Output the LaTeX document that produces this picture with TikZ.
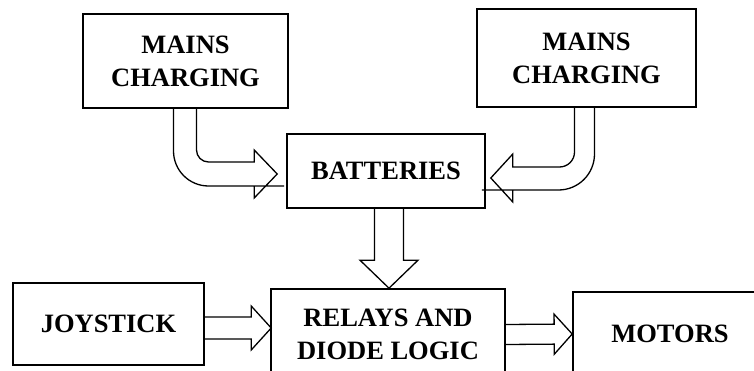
\documentclass[tikz,border=0pt]{standalone}
\usepackage{fontspec}
\setmainfont{Liberation Serif}
\usetikzlibrary{calc}

\begin{document}
\begin{tikzpicture}[
  x=1pt, y=-1pt,
  line join=miter,
  block/.style={draw, line width=1.6pt, align=center, inner sep=0pt,
    font=\bfseries\fontsize{26.5}{33}\selectfont},
  fat/.style={line width=1.3pt},
  straight/.style n args={3}{to path={
    (\tikztostart) coordinate (fa) (\tikztotarget) coordinate (fb)
    ($(fa)!#1!90:(fb)$) -- ($(fb)!#3!(fa)!#1!90:(fb)$)
    -- ($(fb)!#3!(fa)!#2!90:(fb)$) -- (fb)
    -- ($(fb)!#3!(fa)!#2!-90:(fb)$) -- ($(fb)!#3!(fa)!#1!-90:(fb)$)
    -- ($(fa)!#1!-90:(fb)$)}},
]
\clip (0,0) rectangle (754,371);

% ── the blocks ────────────────────────────────────────────────────────────
\node[block, minimum width=205pt, minimum height=94pt] (mainsL) at (185.5,61) {MAINS\\CHARGING};
\node[block, minimum width=219pt, minimum height=98pt] (mainsR) at (586.5,58) {MAINS\\CHARGING};
\node[block, minimum width=198pt, minimum height=74pt] (batt) at (386,171) {BATTERIES};
\node[block, minimum width=191pt, minimum height=82pt] (joy) at (108.5,324) {JOYSTICK};
\node[block, minimum width=234pt, minimum height=91pt] (relays) at (388,334.5) {RELAYS AND\\DIODE LOGIC};
\node[block, minimum width=194pt, minimum height=84pt] (motors) at (670,334) {MOTORS};

% ── the bent arrows into the batteries ────────────────────────────────────
\draw[fat] ($(mainsL.south)+(-12,0)$) [rounded corners=35pt] |- ($(batt.west)+(-37,15)$)
  [sharp corners] -- ($(batt.west)+(-32,15)$) -- ($(batt.west)+(-32,27)$) -- ($(batt.west)+(-9,3)$)
  -- ($(batt.west)+(-32,-21)$) -- ($(batt.west)+(-32,-9)$) -- ($(batt.west)+(-37,-9)$)
  [rounded corners=12pt] -| ($(mainsL.south)+(11,0)$);
\draw[fat] ($(mainsR.south)+(8,0)$) [rounded corners=36pt] |- ($(batt.east)+(32,19)$)
  [sharp corners] -- ($(batt.east)+(27,19)$) -- ($(batt.east)+(27,31)$) -- ($(batt.east)+(5,7)$)
  -- ($(batt.east)+(27,-17)$) -- ($(batt.east)+(27,-4)$) -- ($(batt.east)+(32,-4)$)
  [rounded corners=15pt] -| ($(mainsR.south)+(-12,0)$);

% ── the straight arrows ───────────────────────────────────────────────────
\draw[fat, straight={14.5pt}{29pt}{28pt}] ($(batt.south)+(3,0)$) to ($(relays.north)+(1,0)$);
\draw[fat, straight={11pt}{22pt}{20pt}] ($(joy.east)+(0,4)$) to ($(relays.west)+(1,-6.5)$);
\draw[fat, straight={10pt}{20pt}{18pt}] (relays.east) to (motors.west);

\end{tikzpicture}
\end{document}
